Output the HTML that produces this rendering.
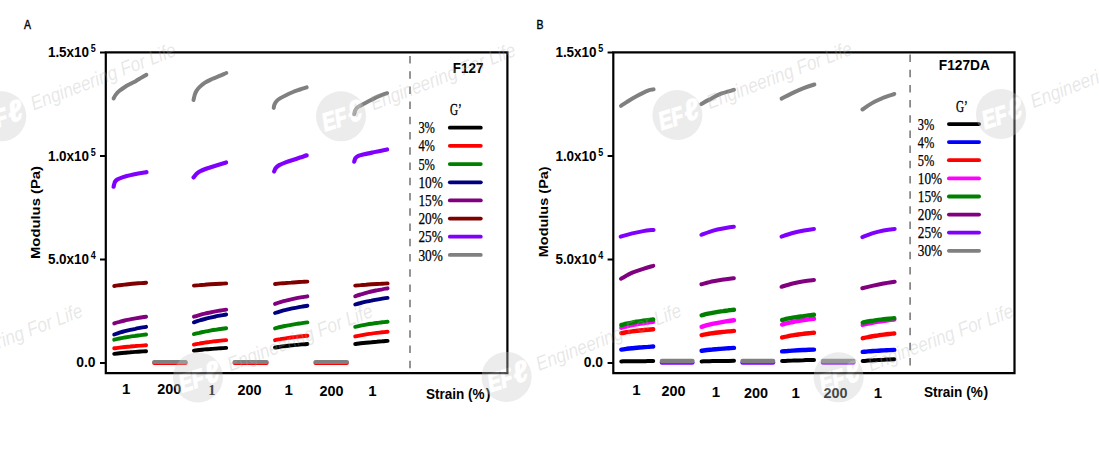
<!DOCTYPE html>
<html><head><meta charset="utf-8"><title>Modulus vs Strain</title>
<style>html,body{margin:0;padding:0;background:#fff;width:1099px;height:449px;overflow:hidden}svg{display:block}</style>
</head><body>
<svg width="1099" height="449" viewBox="0 0 1099 449">
<rect width="1099" height="449" fill="#fff"/>
<g fill="none" stroke="#000" stroke-width="2.2" stroke-linecap="square">
<path d="M105.8 52.4 H507.4 V373.2 H105.8 Z"/>
<path d="M100.0 52.5 H105.8" stroke-width="2" stroke-linecap="butt"/>
<path d="M100.0 156.0 H105.8" stroke-width="2" stroke-linecap="butt"/>
<path d="M100.0 259.5 H105.8" stroke-width="2" stroke-linecap="butt"/>
<path d="M100.0 363.0 H105.8" stroke-width="2" stroke-linecap="butt"/>
</g>
<path d="M410.0 55.9 V371" stroke="#7a7a7a" stroke-width="1.6" stroke-dasharray="7.5 7.74" fill="none"/>
<g fill="none" stroke="#000" stroke-width="2.2" stroke-linecap="square">
<path d="M613.3 52.4 H1014.5 V373.2 H613.3 Z"/>
<path d="M607.6 52.5 H613.3" stroke-width="2" stroke-linecap="butt"/>
<path d="M607.6 156.0 H613.3" stroke-width="2" stroke-linecap="butt"/>
<path d="M607.6 259.5 H613.3" stroke-width="2" stroke-linecap="butt"/>
<path d="M607.6 363.0 H613.3" stroke-width="2" stroke-linecap="butt"/>
</g>
<path d="M910.1 54.6 V371" stroke="#7a7a7a" stroke-width="1.6" stroke-dasharray="7.5 7.67" fill="none"/>
<text x="89.1" y="57.2" font-size="14.0" font-weight="bold" font-family="'Liberation Sans', Arial, sans-serif" text-anchor="end" fill="#000" textLength="41.2" lengthAdjust="spacingAndGlyphs">1.5x10</text>
<text x="90.7" y="52.1" font-size="10.5" font-weight="bold" font-family="'Liberation Sans', Arial, sans-serif" text-anchor="start" fill="#000" textLength="5.0" lengthAdjust="spacingAndGlyphs">5</text>
<text x="89.1" y="160.7" font-size="14.0" font-weight="bold" font-family="'Liberation Sans', Arial, sans-serif" text-anchor="end" fill="#000" textLength="41.2" lengthAdjust="spacingAndGlyphs">1.0x10</text>
<text x="90.7" y="155.6" font-size="10.5" font-weight="bold" font-family="'Liberation Sans', Arial, sans-serif" text-anchor="start" fill="#000" textLength="5.0" lengthAdjust="spacingAndGlyphs">5</text>
<text x="89.1" y="264.1" font-size="14.0" font-weight="bold" font-family="'Liberation Sans', Arial, sans-serif" text-anchor="end" fill="#000" textLength="41.2" lengthAdjust="spacingAndGlyphs">5.0x10</text>
<text x="90.7" y="259.0" font-size="10.5" font-weight="bold" font-family="'Liberation Sans', Arial, sans-serif" text-anchor="start" fill="#000" textLength="5.0" lengthAdjust="spacingAndGlyphs">4</text>
<text x="95.5" y="366.8" font-size="14.4" font-weight="bold" font-family="'Liberation Sans', Arial, sans-serif" text-anchor="end" fill="#000" textLength="19.3" lengthAdjust="spacingAndGlyphs">0.0</text>
<text x="596.6" y="57.2" font-size="14.0" font-weight="bold" font-family="'Liberation Sans', Arial, sans-serif" text-anchor="end" fill="#000" textLength="41.2" lengthAdjust="spacingAndGlyphs">1.5x10</text>
<text x="598.2" y="52.1" font-size="10.5" font-weight="bold" font-family="'Liberation Sans', Arial, sans-serif" text-anchor="start" fill="#000" textLength="5.0" lengthAdjust="spacingAndGlyphs">5</text>
<text x="596.6" y="160.7" font-size="14.0" font-weight="bold" font-family="'Liberation Sans', Arial, sans-serif" text-anchor="end" fill="#000" textLength="41.2" lengthAdjust="spacingAndGlyphs">1.0x10</text>
<text x="598.2" y="155.6" font-size="10.5" font-weight="bold" font-family="'Liberation Sans', Arial, sans-serif" text-anchor="start" fill="#000" textLength="5.0" lengthAdjust="spacingAndGlyphs">5</text>
<text x="596.6" y="264.1" font-size="14.0" font-weight="bold" font-family="'Liberation Sans', Arial, sans-serif" text-anchor="end" fill="#000" textLength="41.2" lengthAdjust="spacingAndGlyphs">5.0x10</text>
<text x="598.2" y="259.0" font-size="10.5" font-weight="bold" font-family="'Liberation Sans', Arial, sans-serif" text-anchor="start" fill="#000" textLength="5.0" lengthAdjust="spacingAndGlyphs">4</text>
<text x="603.0" y="366.8" font-size="14.4" font-weight="bold" font-family="'Liberation Sans', Arial, sans-serif" text-anchor="end" fill="#000" textLength="19.3" lengthAdjust="spacingAndGlyphs">0.0</text>
<text x="0.0" y="0.0" font-size="13.5" font-weight="bold" font-family="'Liberation Sans', Arial, sans-serif" text-anchor="middle" fill="#000" textLength="93" lengthAdjust="spacingAndGlyphs" transform="translate(40.2 212.5) rotate(-90)">Modulus (Pa)</text>
<text x="0.0" y="0.0" font-size="13.5" font-weight="bold" font-family="'Liberation Sans', Arial, sans-serif" text-anchor="middle" fill="#000" textLength="91" lengthAdjust="spacingAndGlyphs" transform="translate(547.6 211.8) rotate(-90)">Modulus (Pa)</text>
<text x="23.9" y="28.6" font-size="11.9" font-weight="normal" font-family="'Liberation Sans', Arial, sans-serif" text-anchor="start" fill="#000" stroke="#000" stroke-width="0.4" textLength="7.0" lengthAdjust="spacingAndGlyphs">A</text>
<text x="536.6" y="28.6" font-size="11.9" font-weight="normal" font-family="'Liberation Sans', Arial, sans-serif" text-anchor="start" fill="#000" stroke="#000" stroke-width="0.4" textLength="7.0" lengthAdjust="spacingAndGlyphs">B</text>
<g fill="none" stroke-linecap="round" stroke-linejoin="round">
<path d="M154.2 362.9 H185.6" stroke="#ff0000" stroke-width="4.0" />
<path d="M234.6 362.9 H266.6" stroke="#ff0000" stroke-width="4.0" />
<path d="M315.5 362.9 H346.9" stroke="#ff0000" stroke-width="4.0" />
<path d="M114.2 353.9 C115.1 353.8 117.7 353.5 119.5 353.3 C121.3 353.1 123.1 352.9 124.8 352.7 C126.6 352.6 128.4 352.4 130.2 352.3 C131.9 352.1 133.7 352.0 135.5 351.9 C137.2 351.8 139.0 351.6 140.8 351.5 C142.6 351.4 145.2 351.3 146.1 351.2" stroke="#000000" stroke-width="3.9" />
<path d="M193.9 350.6 C194.8 350.5 197.5 350.2 199.3 350.0 C201.1 349.8 202.9 349.6 204.7 349.4 C206.5 349.3 208.3 349.1 210.1 349.0 C211.8 348.8 213.6 348.7 215.4 348.6 C217.2 348.5 219.0 348.3 220.8 348.2 C222.6 348.1 225.3 348.0 226.2 347.9" stroke="#000000" stroke-width="3.9" />
<path d="M275.0 347.5 C275.9 347.4 278.6 346.9 280.4 346.7 C282.2 346.4 284.0 346.2 285.8 346.0 C287.6 345.8 289.4 345.6 291.2 345.4 C293.0 345.2 294.8 345.1 296.6 344.9 C298.4 344.7 300.2 344.6 302.0 344.4 C303.8 344.3 306.5 344.1 307.4 344.0" stroke="#000000" stroke-width="3.9" />
<path d="M355.2 344.0 C356.1 343.9 358.8 343.5 360.6 343.3 C362.4 343.1 364.2 342.9 366.0 342.7 C367.8 342.5 369.6 342.3 371.4 342.2 C373.2 342.0 375.0 341.8 376.8 341.7 C378.6 341.5 380.4 341.4 382.2 341.3 C384.0 341.1 386.7 341.0 387.6 340.9" stroke="#000000" stroke-width="3.9" />
<path d="M114.2 348.3 C115.1 348.2 117.7 347.8 119.5 347.6 C121.3 347.4 123.1 347.2 124.8 347.0 C126.6 346.8 128.4 346.6 130.2 346.5 C131.9 346.3 133.7 346.1 135.5 346.0 C137.2 345.8 139.0 345.7 140.8 345.6 C142.6 345.4 145.2 345.3 146.1 345.2" stroke="#ff0000" stroke-width="3.9" />
<path d="M193.9 344.6 C194.8 344.4 197.5 343.9 199.3 343.6 C201.1 343.2 202.9 343.0 204.7 342.7 C206.5 342.4 208.3 342.2 210.1 341.9 C211.8 341.7 213.6 341.5 215.4 341.2 C217.2 341.0 219.0 340.8 220.8 340.6 C222.6 340.5 225.3 340.2 226.2 340.1" stroke="#ff0000" stroke-width="3.9" />
<path d="M275.0 340.2 C275.9 340.0 278.6 339.5 280.4 339.2 C282.2 338.8 284.0 338.6 285.8 338.3 C287.6 338.0 289.4 337.8 291.2 337.5 C293.0 337.3 294.8 337.1 296.6 336.8 C298.4 336.6 300.2 336.4 302.0 336.2 C303.8 336.1 306.5 335.8 307.4 335.7" stroke="#ff0000" stroke-width="3.9" />
<path d="M355.2 336.4 C356.1 336.2 358.8 335.6 360.6 335.3 C362.4 335.0 364.2 334.7 366.0 334.4 C367.8 334.1 369.6 333.8 371.4 333.6 C373.2 333.3 375.0 333.1 376.8 332.9 C378.6 332.7 380.4 332.5 382.2 332.3 C384.0 332.1 386.7 331.8 387.6 331.7" stroke="#ff0000" stroke-width="3.9" />
<path d="M114.2 339.7 C115.1 339.5 117.7 338.9 119.5 338.5 C121.3 338.1 123.1 337.8 124.8 337.5 C126.6 337.2 128.4 336.9 130.2 336.6 C131.9 336.3 133.7 336.1 135.5 335.8 C137.2 335.6 139.0 335.3 140.8 335.1 C142.6 334.9 145.2 334.6 146.1 334.5" stroke="#008000" stroke-width="3.9" />
<path d="M193.9 334.1 C194.8 333.9 197.5 333.2 199.3 332.8 C201.1 332.3 202.9 332.0 204.7 331.6 C206.5 331.3 208.3 331.0 210.1 330.6 C211.8 330.3 213.6 330.0 215.4 329.8 C217.2 329.5 219.0 329.2 220.8 329.0 C222.6 328.8 225.3 328.4 226.2 328.3" stroke="#008000" stroke-width="3.9" />
<path d="M275.0 328.4 C275.9 328.2 278.6 327.4 280.4 327.0 C282.2 326.6 284.0 326.2 285.8 325.8 C287.6 325.5 289.4 325.1 291.2 324.8 C293.0 324.5 294.8 324.2 296.6 323.9 C298.4 323.6 300.2 323.4 302.0 323.1 C303.8 322.9 306.5 322.5 307.4 322.4" stroke="#008000" stroke-width="3.9" />
<path d="M355.2 326.8 C356.1 326.6 358.8 326.0 360.6 325.6 C362.4 325.3 364.2 324.9 366.0 324.6 C367.8 324.3 369.6 324.0 371.4 323.8 C373.2 323.5 375.0 323.2 376.8 323.0 C378.6 322.8 380.4 322.5 382.2 322.3 C384.0 322.1 386.7 321.8 387.6 321.7" stroke="#008000" stroke-width="3.9" />
<path d="M114.2 334.5 C115.1 334.2 117.7 333.3 119.5 332.7 C121.3 332.2 123.1 331.7 124.8 331.2 C126.6 330.7 128.4 330.3 130.2 329.9 C131.9 329.5 133.7 329.1 135.5 328.8 C137.2 328.4 139.0 328.1 140.8 327.7 C142.6 327.4 145.2 327.0 146.1 326.8" stroke="#000080" stroke-width="3.9" />
<path d="M193.9 322.3 C194.8 322.0 197.5 321.1 199.3 320.5 C201.1 319.9 202.9 319.4 204.7 319.0 C206.5 318.5 208.3 318.1 210.1 317.7 C211.8 317.2 213.6 316.9 215.4 316.5 C217.2 316.1 219.0 315.8 220.8 315.4 C222.6 315.1 225.3 314.7 226.2 314.5" stroke="#000080" stroke-width="3.9" />
<path d="M275.0 313.0 C275.9 312.7 278.6 311.8 280.4 311.3 C282.2 310.8 284.0 310.3 285.8 309.9 C287.6 309.4 289.4 309.0 291.2 308.6 C293.0 308.3 294.8 307.9 296.6 307.6 C298.4 307.2 300.2 306.9 302.0 306.6 C303.8 306.3 306.5 305.8 307.4 305.7" stroke="#000080" stroke-width="3.9" />
<path d="M355.2 304.5 C356.1 304.2 358.8 303.4 360.6 303.0 C362.4 302.5 364.2 302.1 366.0 301.7 C367.8 301.3 369.6 300.9 371.4 300.6 C373.2 300.2 375.0 299.9 376.8 299.6 C378.6 299.3 380.4 299.0 382.2 298.7 C384.0 298.4 386.7 298.0 387.6 297.9" stroke="#000080" stroke-width="3.9" />
<path d="M114.2 323.4 C115.1 323.1 117.7 322.3 119.5 321.9 C121.3 321.4 123.1 320.9 124.8 320.5 C126.6 320.1 128.4 319.8 130.2 319.4 C131.9 319.1 133.7 318.7 135.5 318.4 C137.2 318.1 139.0 317.8 140.8 317.5 C142.6 317.2 145.2 316.8 146.1 316.7" stroke="#800080" stroke-width="3.9" />
<path d="M193.9 316.7 C194.8 316.4 197.5 315.6 199.3 315.1 C201.1 314.6 202.9 314.1 204.7 313.7 C206.5 313.2 208.3 312.8 210.1 312.5 C211.8 312.1 213.6 311.7 215.4 311.4 C217.2 311.1 219.0 310.8 220.8 310.5 C222.6 310.2 225.3 309.7 226.2 309.6" stroke="#800080" stroke-width="3.9" />
<path d="M275.0 303.9 C275.9 303.6 278.6 302.7 280.4 302.1 C282.2 301.6 284.0 301.1 285.8 300.7 C287.6 300.2 289.4 299.8 291.2 299.4 C293.0 299.0 294.8 298.6 296.6 298.2 C298.4 297.9 300.2 297.5 302.0 297.2 C303.8 296.9 306.5 296.5 307.4 296.3" stroke="#800080" stroke-width="3.9" />
<path d="M355.2 296.3 C356.1 296.0 358.8 295.0 360.6 294.5 C362.4 293.9 364.2 293.4 366.0 292.9 C367.8 292.4 369.6 292.0 371.4 291.5 C373.2 291.1 375.0 290.7 376.8 290.3 C378.6 290.0 380.4 289.6 382.2 289.3 C384.0 288.9 386.7 288.5 387.6 288.3" stroke="#800080" stroke-width="3.9" />
<path d="M114.2 286.0 C115.1 285.9 117.7 285.5 119.5 285.2 C121.3 285.0 123.1 284.8 124.8 284.6 C126.6 284.4 128.4 284.2 130.2 284.0 C131.9 283.9 133.7 283.7 135.5 283.5 C137.2 283.4 139.0 283.2 140.8 283.1 C142.6 283.0 145.2 282.8 146.1 282.7" stroke="#800000" stroke-width="3.9" />
<path d="M193.9 285.6 C194.8 285.5 197.5 285.2 199.3 285.1 C201.1 284.9 202.9 284.8 204.7 284.7 C206.5 284.5 208.3 284.4 210.1 284.3 C211.8 284.2 213.6 284.1 215.4 284.0 C217.2 283.9 219.0 283.8 220.8 283.7 C222.6 283.6 225.3 283.4 226.2 283.4" stroke="#800000" stroke-width="3.9" />
<path d="M275.0 284.0 C275.9 283.9 278.6 283.6 280.4 283.4 C282.2 283.3 284.0 283.1 285.8 283.0 C287.6 282.8 289.4 282.7 291.2 282.6 C293.0 282.4 294.8 282.3 296.6 282.2 C298.4 282.1 300.2 282.0 302.0 281.9 C303.8 281.8 306.5 281.6 307.4 281.6" stroke="#800000" stroke-width="3.9" />
<path d="M355.2 285.6 C356.1 285.5 358.8 285.2 360.6 285.1 C362.4 284.9 364.2 284.8 366.0 284.7 C367.8 284.5 369.6 284.4 371.4 284.3 C373.2 284.2 375.0 284.1 376.8 284.0 C378.6 283.9 380.4 283.8 382.2 283.7 C384.0 283.6 386.7 283.4 387.6 283.4" stroke="#800000" stroke-width="3.9" />
<path d="M113.6 186.7 C114.0 185.7 113.8 182.3 116.0 180.5 C118.2 178.7 121.7 177.4 126.8 176.0 C131.9 174.6 143.2 172.7 146.5 172.1" stroke="#8000ff" stroke-width="4.2" />
<path d="M193.5 177.4 C194.4 176.6 195.8 173.9 198.5 172.2 C201.2 170.5 205.4 169.1 210.0 167.5 C214.6 165.9 223.4 163.2 226.1 162.4" stroke="#8000ff" stroke-width="4.2" />
<path d="M274.1 171.5 C274.4 171.0 274.8 169.3 275.6 168.2 C276.4 167.1 277.6 166.1 279.2 165.2 C280.8 164.3 282.9 163.4 285.0 162.6 C287.1 161.8 289.5 161.0 292.0 160.2 C294.5 159.4 297.5 158.4 300.0 157.6 C302.5 156.8 305.6 155.7 306.7 155.4" stroke="#8000ff" stroke-width="4.2" />
<path d="M354.2 161.7 C354.4 161.1 354.7 159.2 355.4 158.2 C356.1 157.2 357.0 156.6 358.4 155.9 C359.8 155.2 361.7 154.9 364.0 154.3 C366.3 153.8 369.3 153.2 372.0 152.6 C374.7 152.0 377.5 151.5 380.0 151.0 C382.5 150.5 385.9 149.8 387.1 149.5" stroke="#8000ff" stroke-width="4.2" />
<path d="M113.6 98.4 C114.0 97.7 114.8 95.9 115.8 94.6 C116.8 93.3 118.0 91.9 119.5 90.7 C121.0 89.5 122.8 88.3 124.5 87.2 C126.2 86.1 128.1 85.1 130.0 84.1 C131.9 83.0 134.1 82.0 136.0 80.9 C137.9 79.8 139.8 78.6 141.5 77.6 C143.2 76.6 145.6 75.3 146.4 74.8" stroke="#808080" stroke-width="4.0" />
<path d="M193.5 100.0 C193.7 99.2 194.2 96.6 194.7 95.0 C195.2 93.4 195.7 92.0 196.6 90.6 C197.5 89.2 198.6 87.9 200.0 86.6 C201.4 85.3 203.0 83.9 205.0 82.6 C207.0 81.3 209.7 80.1 212.0 79.0 C214.3 77.9 216.6 77.2 219.0 76.2 C221.4 75.2 225.1 73.5 226.3 73.0" stroke="#808080" stroke-width="4.0" />
<path d="M273.7 107.9 C273.8 107.4 274.0 105.9 274.4 104.8 C274.8 103.7 275.4 102.5 276.3 101.4 C277.2 100.3 278.4 99.4 280.0 98.4 C281.6 97.4 283.8 96.3 286.0 95.2 C288.2 94.1 290.7 93.0 293.0 92.0 C295.3 91.0 297.7 90.3 300.0 89.5 C302.3 88.7 305.6 87.8 306.7 87.4" stroke="#808080" stroke-width="4.0" />
<path d="M354.1 114.3 C354.3 113.7 354.6 111.7 355.2 110.5 C355.8 109.3 356.7 108.0 358.0 107.0 C359.3 106.0 361.2 105.2 363.0 104.2 C364.8 103.2 366.9 102.1 369.0 101.0 C371.1 99.9 373.6 98.6 375.7 97.6 C377.8 96.6 379.6 95.9 381.5 95.2 C383.4 94.5 386.2 93.5 387.1 93.2" stroke="#808080" stroke-width="4.0" />
<path d="M154.2 362.0 H185.6" stroke="#808080" stroke-width="4.2" />
<path d="M234.6 362.0 H266.6" stroke="#808080" stroke-width="4.2" />
<path d="M315.5 362.0 H346.9" stroke="#808080" stroke-width="4.2" />
</g>
<g fill="none" stroke-linecap="round" stroke-linejoin="round">
<path d="M661.9 362.6 H692.4" stroke="#8000ff" stroke-width="4.4" />
<path d="M742.5 362.6 H773.1" stroke="#8000ff" stroke-width="4.4" />
<path d="M823.0 362.6 H853.4" stroke="#8000ff" stroke-width="4.4" />
<path d="M621.3 361.4 C622.2 361.4 624.8 361.3 626.6 361.3 C628.4 361.3 630.2 361.3 631.9 361.3 C633.7 361.2 635.5 361.2 637.2 361.2 C639.0 361.2 640.8 361.2 642.6 361.2 C644.3 361.2 646.1 361.1 647.9 361.1 C649.7 361.1 652.3 361.1 653.2 361.1" stroke="#000000" stroke-width="4.0" />
<path d="M701.6 361.4 C702.5 361.4 705.2 361.3 707.0 361.3 C708.8 361.2 710.6 361.2 712.4 361.1 C714.2 361.1 716.0 361.1 717.8 361.0 C719.6 361.0 721.4 361.0 723.2 360.9 C725.0 360.9 726.8 360.9 728.6 360.9 C730.4 360.8 733.1 360.8 734.0 360.8" stroke="#000000" stroke-width="4.0" />
<path d="M782.1 361.1 C783.0 361.1 785.6 360.9 787.4 360.8 C789.2 360.7 791.0 360.6 792.7 360.6 C794.5 360.5 796.3 360.4 798.0 360.4 C799.8 360.3 801.6 360.2 803.4 360.2 C805.1 360.1 806.9 360.1 808.7 360.0 C810.5 360.0 813.1 359.9 814.0 359.9" stroke="#000000" stroke-width="4.0" />
<path d="M862.7 361.1 C863.6 361.0 866.2 360.8 868.0 360.6 C869.7 360.5 871.5 360.4 873.2 360.3 C875.0 360.1 876.7 360.0 878.5 359.9 C880.3 359.8 882.0 359.7 883.8 359.7 C885.5 359.6 887.3 359.5 889.0 359.4 C890.8 359.3 893.4 359.2 894.3 359.2" stroke="#000000" stroke-width="4.0" />
<path d="M621.3 349.6 C622.2 349.5 624.8 349.1 626.6 348.8 C628.4 348.6 630.2 348.4 631.9 348.2 C633.7 348.0 635.5 347.9 637.2 347.7 C639.0 347.5 640.8 347.4 642.6 347.3 C644.3 347.1 646.1 347.0 647.9 346.9 C649.7 346.7 652.3 346.6 653.2 346.5" stroke="#0000ff" stroke-width="4.4" />
<path d="M701.6 350.7 C702.5 350.6 705.2 350.2 707.0 350.0 C708.8 349.8 710.6 349.6 712.4 349.5 C714.2 349.3 716.0 349.1 717.8 349.0 C719.6 348.8 721.4 348.7 723.2 348.6 C725.0 348.5 726.8 348.3 728.6 348.2 C730.4 348.1 733.1 348.0 734.0 347.9" stroke="#0000ff" stroke-width="4.4" />
<path d="M782.1 351.4 C783.0 351.3 785.6 351.1 787.4 351.0 C789.2 350.8 791.0 350.7 792.7 350.6 C794.5 350.5 796.3 350.4 798.0 350.3 C799.8 350.2 801.6 350.1 803.4 350.0 C805.1 350.0 806.9 349.9 808.7 349.8 C810.5 349.7 813.1 349.6 814.0 349.6" stroke="#0000ff" stroke-width="4.4" />
<path d="M862.7 351.9 C863.6 351.8 866.2 351.6 868.0 351.4 C869.7 351.3 871.5 351.1 873.2 351.0 C875.0 350.9 876.7 350.8 878.5 350.7 C880.3 350.6 882.0 350.5 883.8 350.4 C885.5 350.3 887.3 350.2 889.0 350.1 C890.8 350.0 893.4 349.9 894.3 349.9" stroke="#0000ff" stroke-width="4.4" />
<path d="M621.3 333.1 C622.2 332.9 624.8 332.5 626.6 332.2 C628.4 331.9 630.2 331.7 631.9 331.4 C633.7 331.2 635.5 331.0 637.2 330.8 C639.0 330.6 640.8 330.4 642.6 330.2 C644.3 330.1 646.1 329.9 647.9 329.7 C649.7 329.6 652.3 329.4 653.2 329.3" stroke="#ff0000" stroke-width="4.4" />
<path d="M701.6 335.1 C702.5 334.9 705.2 334.4 707.0 334.1 C708.8 333.8 710.6 333.5 712.4 333.2 C714.2 333.0 716.0 332.8 717.8 332.5 C719.6 332.3 721.4 332.1 723.2 331.9 C725.0 331.7 726.8 331.6 728.6 331.4 C730.4 331.2 733.1 331.0 734.0 330.9" stroke="#ff0000" stroke-width="4.4" />
<path d="M782.1 337.4 C783.0 337.2 785.6 336.6 787.4 336.3 C789.2 335.9 791.0 335.6 792.7 335.3 C794.5 335.0 796.3 334.8 798.0 334.5 C799.8 334.3 801.6 334.1 803.4 333.8 C805.1 333.6 806.9 333.4 808.7 333.2 C810.5 333.0 813.1 332.8 814.0 332.7" stroke="#ff0000" stroke-width="4.4" />
<path d="M862.7 338.2 C863.6 338.0 866.2 337.4 868.0 337.1 C869.7 336.7 871.5 336.4 873.2 336.1 C875.0 335.8 876.7 335.6 878.5 335.3 C880.3 335.1 882.0 334.9 883.8 334.6 C885.5 334.4 887.3 334.2 889.0 334.0 C890.8 333.8 893.4 333.6 894.3 333.5" stroke="#ff0000" stroke-width="4.4" />
<path d="M621.3 327.8 C622.2 327.6 624.8 326.8 626.6 326.3 C628.4 325.9 630.2 325.5 631.9 325.1 C633.7 324.8 635.5 324.4 637.2 324.1 C639.0 323.8 640.8 323.5 642.6 323.3 C644.3 323.0 646.1 322.7 647.9 322.5 C649.7 322.2 652.3 321.9 653.2 321.8" stroke="#ff00ff" stroke-width="4.4" />
<path d="M701.6 326.8 C702.5 326.5 705.2 325.7 707.0 325.2 C708.8 324.7 710.6 324.3 712.4 323.9 C714.2 323.5 716.0 323.2 717.8 322.8 C719.6 322.5 721.4 322.2 723.2 321.9 C725.0 321.6 726.8 321.3 728.6 321.0 C730.4 320.8 733.1 320.4 734.0 320.3" stroke="#ff00ff" stroke-width="4.4" />
<path d="M782.1 324.6 C783.0 324.4 785.6 323.6 787.4 323.2 C789.2 322.7 791.0 322.4 792.7 322.0 C794.5 321.6 796.3 321.3 798.0 321.0 C799.8 320.7 801.6 320.4 803.4 320.1 C805.1 319.9 806.9 319.6 808.7 319.4 C810.5 319.1 813.1 318.8 814.0 318.7" stroke="#ff00ff" stroke-width="4.4" />
<path d="M862.7 324.9 C863.6 324.7 866.2 324.0 868.0 323.6 C869.7 323.2 871.5 322.8 873.2 322.5 C875.0 322.2 876.7 321.9 878.5 321.6 C880.3 321.3 882.0 321.1 883.8 320.8 C885.5 320.6 887.3 320.3 889.0 320.1 C890.8 319.9 893.4 319.6 894.3 319.5" stroke="#ff00ff" stroke-width="4.4" />
<path d="M621.3 325.0 C622.2 324.8 624.8 324.1 626.6 323.7 C628.4 323.3 630.2 322.9 631.9 322.6 C633.7 322.2 635.5 321.9 637.2 321.6 C639.0 321.4 640.8 321.1 642.6 320.8 C644.3 320.6 646.1 320.4 647.9 320.1 C649.7 319.9 652.3 319.6 653.2 319.5" stroke="#008000" stroke-width="4.4" />
<path d="M701.6 315.3 C702.5 315.1 705.2 314.3 707.0 313.9 C708.8 313.5 710.6 313.2 712.4 312.8 C714.2 312.5 716.0 312.2 717.8 311.9 C719.6 311.6 721.4 311.3 723.2 311.1 C725.0 310.8 726.8 310.6 728.6 310.3 C730.4 310.1 733.1 309.8 734.0 309.7" stroke="#008000" stroke-width="4.4" />
<path d="M782.1 320.0 C783.0 319.8 785.6 319.1 787.4 318.7 C789.2 318.4 791.0 318.0 792.7 317.7 C794.5 317.4 796.3 317.1 798.0 316.8 C799.8 316.6 801.6 316.3 803.4 316.1 C805.1 315.8 806.9 315.6 808.7 315.4 C810.5 315.2 813.1 314.9 814.0 314.8" stroke="#008000" stroke-width="4.4" />
<path d="M862.7 322.6 C863.6 322.4 866.2 321.9 868.0 321.5 C869.7 321.2 871.5 320.9 873.2 320.7 C875.0 320.4 876.7 320.1 878.5 319.9 C880.3 319.7 882.0 319.5 883.8 319.3 C885.5 319.1 887.3 318.9 889.0 318.7 C890.8 318.5 893.4 318.3 894.3 318.2" stroke="#008000" stroke-width="4.4" />
<path d="M621.0 278.7 C622.9 277.7 628.6 274.3 632.3 272.7 C636.0 271.1 639.7 269.9 643.2 268.8 C646.7 267.7 651.6 266.3 653.3 265.8" stroke="#800080" stroke-width="4.0" />
<path d="M701.4 284.3 C703.4 283.8 709.5 282.1 713.3 281.3 C717.1 280.5 720.6 280.0 724.0 279.5 C727.4 279.0 732.3 278.4 733.9 278.2" stroke="#800080" stroke-width="4.0" />
<path d="M781.5 286.8 C783.4 286.2 788.9 284.4 792.7 283.5 C796.5 282.6 800.4 281.8 804.0 281.2 C807.6 280.6 812.3 280.2 814.0 280.0" stroke="#800080" stroke-width="4.0" />
<path d="M862.3 288.3 C863.9 287.9 868.7 286.7 872.2 285.9 C875.7 285.1 879.7 284.2 883.5 283.5 C887.3 282.8 892.8 282.0 894.7 281.7" stroke="#800080" stroke-width="4.0" />
<path d="M620.6 236.7 C622.5 236.1 628.5 234.3 632.3 233.4 C636.1 232.5 639.6 231.7 643.2 231.1 C646.8 230.5 651.9 230.1 653.6 229.9" stroke="#8000ff" stroke-width="4.0" />
<path d="M701.4 234.8 C703.4 234.1 709.5 231.7 713.3 230.6 C717.1 229.5 720.9 228.9 724.3 228.3 C727.7 227.7 732.3 227.0 733.9 226.8" stroke="#8000ff" stroke-width="4.0" />
<path d="M781.5 236.6 C783.3 236.0 788.9 234.0 792.7 233.0 C796.5 232.0 800.4 231.2 804.0 230.5 C807.6 229.8 812.3 229.1 814.0 228.9" stroke="#8000ff" stroke-width="4.0" />
<path d="M862.3 237.1 C863.9 236.5 868.7 234.5 872.2 233.4 C875.7 232.3 879.7 231.3 883.5 230.5 C887.3 229.7 892.8 229.1 894.7 228.9" stroke="#8000ff" stroke-width="4.0" />
<path d="M621.0 105.9 C622.1 105.2 625.0 103.2 627.6 101.5 C630.2 99.8 633.5 97.8 636.9 96.0 C640.3 94.2 645.1 91.7 647.9 90.6 C650.7 89.5 652.7 89.6 653.6 89.4" stroke="#808080" stroke-width="4.0" />
<path d="M701.3 104.1 C702.6 103.4 705.4 101.6 708.7 99.9 C712.0 98.2 716.9 95.4 721.1 93.7 C725.3 92.0 731.8 90.6 733.9 89.9" stroke="#808080" stroke-width="4.0" />
<path d="M781.6 98.6 C783.6 97.6 789.6 94.4 793.4 92.6 C797.2 90.8 800.8 89.3 804.3 87.9 C807.8 86.5 812.7 85.0 814.4 84.5" stroke="#808080" stroke-width="4.0" />
<path d="M862.4 109.5 C863.3 108.9 865.9 106.9 868.0 105.6 C870.1 104.3 872.7 102.7 875.0 101.5 C877.3 100.3 879.8 99.2 882.0 98.3 C884.2 97.3 886.4 96.5 888.5 95.8 C890.6 95.1 893.4 94.3 894.3 94.0" stroke="#808080" stroke-width="4.0" />
<path d="M661.9 361.0 H692.4" stroke="#808080" stroke-width="4.4" />
<path d="M742.5 361.0 H773.1" stroke="#808080" stroke-width="4.4" />
<path d="M823.0 361.0 H853.4" stroke="#808080" stroke-width="4.4" />
</g>
<text x="452.8" y="73.0" font-size="14.0" font-weight="bold" font-family="'Liberation Sans', Arial, sans-serif" text-anchor="start" fill="#000" textLength="30.6" lengthAdjust="spacingAndGlyphs">F127</text>
<text x="450.0" y="114.8" font-size="16.0" font-weight="normal" font-family="'Liberation Serif', 'Times New Roman', serif" text-anchor="start" fill="#000" textLength="11.8" lengthAdjust="spacingAndGlyphs" stroke="#000" stroke-width="0.35">G&#8217;</text>
<path d="M449.8 127.7 H480.8" stroke="#000" stroke-width="3.8" stroke-linecap="round" fill="none"/>
<text x="418.4" y="133.3" font-size="17.0" font-weight="normal" font-family="'Liberation Serif', 'Times New Roman', serif" text-anchor="start" fill="#000" textLength="16.6" lengthAdjust="spacingAndGlyphs" stroke="#000" stroke-width="0.25">3%</text>
<path d="M449.8 145.8 H480.8" stroke="#ff0000" stroke-width="3.8" stroke-linecap="round" fill="none"/>
<text x="418.4" y="151.4" font-size="17.0" font-weight="normal" font-family="'Liberation Serif', 'Times New Roman', serif" text-anchor="start" fill="#000" textLength="16.6" lengthAdjust="spacingAndGlyphs" stroke="#000" stroke-width="0.25">4%</text>
<path d="M449.8 164.1 H480.8" stroke="#008000" stroke-width="3.8" stroke-linecap="round" fill="none"/>
<text x="418.4" y="169.7" font-size="17.0" font-weight="normal" font-family="'Liberation Serif', 'Times New Roman', serif" text-anchor="start" fill="#000" textLength="16.6" lengthAdjust="spacingAndGlyphs" stroke="#000" stroke-width="0.25">5%</text>
<path d="M449.8 182.3 H480.8" stroke="#000080" stroke-width="3.8" stroke-linecap="round" fill="none"/>
<text x="418.4" y="187.9" font-size="17.0" font-weight="normal" font-family="'Liberation Serif', 'Times New Roman', serif" text-anchor="start" fill="#000" textLength="24.4" lengthAdjust="spacingAndGlyphs" stroke="#000" stroke-width="0.25">10%</text>
<path d="M449.8 200.4 H480.8" stroke="#800080" stroke-width="3.8" stroke-linecap="round" fill="none"/>
<text x="418.4" y="206.0" font-size="17.0" font-weight="normal" font-family="'Liberation Serif', 'Times New Roman', serif" text-anchor="start" fill="#000" textLength="24.4" lengthAdjust="spacingAndGlyphs" stroke="#000" stroke-width="0.25">15%</text>
<path d="M449.8 218.6 H480.8" stroke="#800000" stroke-width="3.8" stroke-linecap="round" fill="none"/>
<text x="418.4" y="224.2" font-size="17.0" font-weight="normal" font-family="'Liberation Serif', 'Times New Roman', serif" text-anchor="start" fill="#000" textLength="24.4" lengthAdjust="spacingAndGlyphs" stroke="#000" stroke-width="0.25">20%</text>
<path d="M449.8 236.7 H480.8" stroke="#8000ff" stroke-width="3.8" stroke-linecap="round" fill="none"/>
<text x="418.4" y="242.3" font-size="17.0" font-weight="normal" font-family="'Liberation Serif', 'Times New Roman', serif" text-anchor="start" fill="#000" textLength="24.4" lengthAdjust="spacingAndGlyphs" stroke="#000" stroke-width="0.25">25%</text>
<path d="M449.8 254.9 H480.8" stroke="#808080" stroke-width="3.8" stroke-linecap="round" fill="none"/>
<text x="418.4" y="260.5" font-size="17.0" font-weight="normal" font-family="'Liberation Serif', 'Times New Roman', serif" text-anchor="start" fill="#000" textLength="24.4" lengthAdjust="spacingAndGlyphs" stroke="#000" stroke-width="0.25">30%</text>
<text x="938.8" y="70.3" font-size="14.0" font-weight="bold" font-family="'Liberation Sans', Arial, sans-serif" text-anchor="start" fill="#000" textLength="51.0" lengthAdjust="spacingAndGlyphs">F127DA</text>
<text x="956.0" y="111.6" font-size="16.0" font-weight="normal" font-family="'Liberation Serif', 'Times New Roman', serif" text-anchor="start" fill="#000" textLength="11.8" lengthAdjust="spacingAndGlyphs" stroke="#000" stroke-width="0.35">G&#8217;</text>
<path d="M948.9 124.1 H979.1" stroke="#000" stroke-width="3.8" stroke-linecap="round" fill="none"/>
<text x="917.8" y="129.7" font-size="17.0" font-weight="normal" font-family="'Liberation Serif', 'Times New Roman', serif" text-anchor="start" fill="#000" textLength="16.6" lengthAdjust="spacingAndGlyphs" stroke="#000" stroke-width="0.25">3%</text>
<path d="M948.9 142.1 H979.1" stroke="#0000ff" stroke-width="3.8" stroke-linecap="round" fill="none"/>
<text x="917.8" y="147.7" font-size="17.0" font-weight="normal" font-family="'Liberation Serif', 'Times New Roman', serif" text-anchor="start" fill="#000" textLength="16.6" lengthAdjust="spacingAndGlyphs" stroke="#000" stroke-width="0.25">4%</text>
<path d="M948.9 160.2 H979.1" stroke="#ff0000" stroke-width="3.8" stroke-linecap="round" fill="none"/>
<text x="917.8" y="165.8" font-size="17.0" font-weight="normal" font-family="'Liberation Serif', 'Times New Roman', serif" text-anchor="start" fill="#000" textLength="16.6" lengthAdjust="spacingAndGlyphs" stroke="#000" stroke-width="0.25">5%</text>
<path d="M948.9 178.4 H979.1" stroke="#ff00ff" stroke-width="3.8" stroke-linecap="round" fill="none"/>
<text x="917.8" y="184.0" font-size="17.0" font-weight="normal" font-family="'Liberation Serif', 'Times New Roman', serif" text-anchor="start" fill="#000" textLength="24.4" lengthAdjust="spacingAndGlyphs" stroke="#000" stroke-width="0.25">10%</text>
<path d="M948.9 196.5 H979.1" stroke="#008000" stroke-width="3.8" stroke-linecap="round" fill="none"/>
<text x="917.8" y="202.1" font-size="17.0" font-weight="normal" font-family="'Liberation Serif', 'Times New Roman', serif" text-anchor="start" fill="#000" textLength="24.4" lengthAdjust="spacingAndGlyphs" stroke="#000" stroke-width="0.25">15%</text>
<path d="M948.9 214.6 H979.1" stroke="#800080" stroke-width="3.8" stroke-linecap="round" fill="none"/>
<text x="917.8" y="220.2" font-size="17.0" font-weight="normal" font-family="'Liberation Serif', 'Times New Roman', serif" text-anchor="start" fill="#000" textLength="24.4" lengthAdjust="spacingAndGlyphs" stroke="#000" stroke-width="0.25">20%</text>
<path d="M948.9 232.6 H979.1" stroke="#8000ff" stroke-width="3.8" stroke-linecap="round" fill="none"/>
<text x="917.8" y="238.2" font-size="17.0" font-weight="normal" font-family="'Liberation Serif', 'Times New Roman', serif" text-anchor="start" fill="#000" textLength="24.4" lengthAdjust="spacingAndGlyphs" stroke="#000" stroke-width="0.25">25%</text>
<path d="M948.9 250.8 H979.1" stroke="#808080" stroke-width="3.8" stroke-linecap="round" fill="none"/>
<text x="917.8" y="256.4" font-size="17.0" font-weight="normal" font-family="'Liberation Serif', 'Times New Roman', serif" text-anchor="start" fill="#000" textLength="24.4" lengthAdjust="spacingAndGlyphs" stroke="#000" stroke-width="0.25">30%</text>
<text x="126.2" y="393.7" font-size="15.0" font-weight="bold" font-family="'Liberation Sans', Arial, sans-serif" text-anchor="middle" fill="#000" >1</text>
<text x="169.2" y="394.2" font-size="15.0" font-weight="bold" font-family="'Liberation Sans', Arial, sans-serif" text-anchor="middle" fill="#000" textLength="24.0" lengthAdjust="spacingAndGlyphs">200</text>
<text x="249.6" y="394.8" font-size="15.0" font-weight="bold" font-family="'Liberation Sans', Arial, sans-serif" text-anchor="middle" fill="#000" textLength="24.0" lengthAdjust="spacingAndGlyphs">200</text>
<text x="288.7" y="394.8" font-size="15.0" font-weight="bold" font-family="'Liberation Sans', Arial, sans-serif" text-anchor="middle" fill="#000" >1</text>
<text x="331.5" y="395.8" font-size="15.0" font-weight="bold" font-family="'Liberation Sans', Arial, sans-serif" text-anchor="middle" fill="#000" textLength="24.0" lengthAdjust="spacingAndGlyphs">200</text>
<text x="372.4" y="395.8" font-size="15.0" font-weight="bold" font-family="'Liberation Sans', Arial, sans-serif" text-anchor="middle" fill="#000" >1</text>
<text x="211.8" y="394.8" font-size="14.5" font-weight="bold" font-family="'Liberation Serif', 'Times New Roman', serif" text-anchor="middle" fill="#000" >1</text>
<text x="636.3" y="395.2" font-size="15.0" font-weight="bold" font-family="'Liberation Sans', Arial, sans-serif" text-anchor="middle" fill="#000" >1</text>
<text x="673.4" y="395.8" font-size="15.0" font-weight="bold" font-family="'Liberation Sans', Arial, sans-serif" text-anchor="middle" fill="#000" textLength="24.0" lengthAdjust="spacingAndGlyphs">200</text>
<text x="716.0" y="396.9" font-size="15.0" font-weight="bold" font-family="'Liberation Sans', Arial, sans-serif" text-anchor="middle" fill="#000" >1</text>
<text x="756.0" y="397.8" font-size="15.0" font-weight="bold" font-family="'Liberation Sans', Arial, sans-serif" text-anchor="middle" fill="#000" textLength="24.0" lengthAdjust="spacingAndGlyphs">200</text>
<text x="795.7" y="397.6" font-size="15.0" font-weight="bold" font-family="'Liberation Sans', Arial, sans-serif" text-anchor="middle" fill="#000" >1</text>
<text x="835.6" y="398.1" font-size="15.0" font-weight="bold" font-family="'Liberation Sans', Arial, sans-serif" text-anchor="middle" fill="#000" textLength="24.0" lengthAdjust="spacingAndGlyphs">200</text>
<text x="878.0" y="398.1" font-size="15.0" font-weight="bold" font-family="'Liberation Sans', Arial, sans-serif" text-anchor="middle" fill="#000" >1</text>
<text x="425.9" y="398.7" font-size="14.0" font-weight="bold" font-family="'Liberation Sans', Arial, sans-serif" text-anchor="start" fill="#000" textLength="58.6" lengthAdjust="spacingAndGlyphs">Strain (%</text>
<text x="485.8" y="398.7" font-size="14.0" font-weight="bold" font-family="'Liberation Sans', Arial, sans-serif" text-anchor="start" fill="#000" >)</text>
<text x="923.9" y="397.2" font-size="14.0" font-weight="bold" font-family="'Liberation Sans', Arial, sans-serif" text-anchor="start" fill="#000" textLength="58.9" lengthAdjust="spacingAndGlyphs">Strain (%</text>
<text x="983.5" y="397.2" font-size="14.0" font-weight="bold" font-family="'Liberation Sans', Arial, sans-serif" text-anchor="start" fill="#000" >)</text>
<g opacity="0.34">
<circle cx="1.3" cy="116.3" r="25" fill="rgb(200,200,200)"/>
<text x="0" y="0" font-size="25" font-weight="bold" font-style="italic" font-family="'Liberation Sans', Arial, sans-serif" fill="#fff" stroke="#fff" stroke-width="1.2" transform="translate(-14.7 131.3) rotate(-17)" textLength="25" lengthAdjust="spacingAndGlyphs">EF</text>
<text x="0" y="0" font-size="29" font-weight="bold" font-style="italic" font-family="'Liberation Sans', Arial, sans-serif" fill="#fff" stroke="#fff" stroke-width="1.0" transform="translate(10.8 122.8) rotate(-17)">&#8467;</text>
</g>
<text x="0" y="0" font-size="20" font-style="italic" font-family="'Liberation Sans', Arial, sans-serif" fill="rgb(170,170,170)" fill-opacity="0.28" transform="translate(33.7 110.5) rotate(-21)" textLength="154" lengthAdjust="spacingAndGlyphs">Engineering For Life</text>
<g opacity="0.34">
<circle cx="341.0" cy="116.3" r="25" fill="rgb(200,200,200)"/>
<text x="0" y="0" font-size="25" font-weight="bold" font-style="italic" font-family="'Liberation Sans', Arial, sans-serif" fill="#fff" stroke="#fff" stroke-width="1.2" transform="translate(325.0 131.3) rotate(-17)" textLength="25" lengthAdjust="spacingAndGlyphs">EF</text>
<text x="0" y="0" font-size="29" font-weight="bold" font-style="italic" font-family="'Liberation Sans', Arial, sans-serif" fill="#fff" stroke="#fff" stroke-width="1.0" transform="translate(350.5 122.8) rotate(-17)">&#8467;</text>
</g>
<text x="0" y="0" font-size="20" font-style="italic" font-family="'Liberation Sans', Arial, sans-serif" fill="rgb(170,170,170)" fill-opacity="0.28" transform="translate(373.4 110.5) rotate(-21)" textLength="154" lengthAdjust="spacingAndGlyphs">Engineering For Life</text>
<g opacity="0.34">
<circle cx="677.4" cy="115.0" r="25" fill="rgb(200,200,200)"/>
<text x="0" y="0" font-size="25" font-weight="bold" font-style="italic" font-family="'Liberation Sans', Arial, sans-serif" fill="#fff" stroke="#fff" stroke-width="1.2" transform="translate(661.4 130.0) rotate(-17)" textLength="25" lengthAdjust="spacingAndGlyphs">EF</text>
<text x="0" y="0" font-size="29" font-weight="bold" font-style="italic" font-family="'Liberation Sans', Arial, sans-serif" fill="#fff" stroke="#fff" stroke-width="1.0" transform="translate(686.9 121.5) rotate(-17)">&#8467;</text>
</g>
<text x="0" y="0" font-size="20" font-style="italic" font-family="'Liberation Sans', Arial, sans-serif" fill="rgb(170,170,170)" fill-opacity="0.28" transform="translate(709.8 109.2) rotate(-21)" textLength="154" lengthAdjust="spacingAndGlyphs">Engineering For Life</text>
<g opacity="0.34">
<circle cx="1001.0" cy="114.0" r="25" fill="rgb(200,200,200)"/>
<text x="0" y="0" font-size="25" font-weight="bold" font-style="italic" font-family="'Liberation Sans', Arial, sans-serif" fill="#fff" stroke="#fff" stroke-width="1.2" transform="translate(985.0 129.0) rotate(-17)" textLength="25" lengthAdjust="spacingAndGlyphs">EF</text>
<text x="0" y="0" font-size="29" font-weight="bold" font-style="italic" font-family="'Liberation Sans', Arial, sans-serif" fill="#fff" stroke="#fff" stroke-width="1.0" transform="translate(1010.5 120.5) rotate(-17)">&#8467;</text>
</g>
<text x="0" y="0" font-size="20" font-style="italic" font-family="'Liberation Sans', Arial, sans-serif" fill="rgb(170,170,170)" fill-opacity="0.28" transform="translate(1033.4 108.2) rotate(-21)" textLength="154" lengthAdjust="spacingAndGlyphs">Engineering For Life</text>
<g opacity="0.34">
<circle cx="-92.0" cy="377.0" r="25" fill="rgb(200,200,200)"/>
<text x="0" y="0" font-size="25" font-weight="bold" font-style="italic" font-family="'Liberation Sans', Arial, sans-serif" fill="#fff" stroke="#fff" stroke-width="1.2" transform="translate(-108.0 392.0) rotate(-17)" textLength="25" lengthAdjust="spacingAndGlyphs">EF</text>
<text x="0" y="0" font-size="29" font-weight="bold" font-style="italic" font-family="'Liberation Sans', Arial, sans-serif" fill="#fff" stroke="#fff" stroke-width="1.0" transform="translate(-82.5 383.5) rotate(-17)">&#8467;</text>
</g>
<text x="0" y="0" font-size="20" font-style="italic" font-family="'Liberation Sans', Arial, sans-serif" fill="rgb(170,170,170)" fill-opacity="0.28" transform="translate(-59.6 371.2) rotate(-21)" textLength="154" lengthAdjust="spacingAndGlyphs">Engineering For Life</text>
<g opacity="0.34">
<circle cx="198.0" cy="377.4" r="25" fill="rgb(200,200,200)"/>
<text x="0" y="0" font-size="25" font-weight="bold" font-style="italic" font-family="'Liberation Sans', Arial, sans-serif" fill="#fff" stroke="#fff" stroke-width="1.2" transform="translate(182.0 392.4) rotate(-17)" textLength="25" lengthAdjust="spacingAndGlyphs">EF</text>
<text x="0" y="0" font-size="29" font-weight="bold" font-style="italic" font-family="'Liberation Sans', Arial, sans-serif" fill="#fff" stroke="#fff" stroke-width="1.0" transform="translate(207.5 383.9) rotate(-17)">&#8467;</text>
</g>
<text x="0" y="0" font-size="20" font-style="italic" font-family="'Liberation Sans', Arial, sans-serif" fill="rgb(170,170,170)" fill-opacity="0.28" transform="translate(230.4 371.6) rotate(-21)" textLength="154" lengthAdjust="spacingAndGlyphs">Engineering For Life</text>
<g opacity="0.34">
<circle cx="506.6" cy="376.9" r="25" fill="rgb(200,200,200)"/>
<text x="0" y="0" font-size="25" font-weight="bold" font-style="italic" font-family="'Liberation Sans', Arial, sans-serif" fill="#fff" stroke="#fff" stroke-width="1.2" transform="translate(490.6 391.9) rotate(-17)" textLength="25" lengthAdjust="spacingAndGlyphs">EF</text>
<text x="0" y="0" font-size="29" font-weight="bold" font-style="italic" font-family="'Liberation Sans', Arial, sans-serif" fill="#fff" stroke="#fff" stroke-width="1.0" transform="translate(516.1 383.4) rotate(-17)">&#8467;</text>
</g>
<text x="0" y="0" font-size="20" font-style="italic" font-family="'Liberation Sans', Arial, sans-serif" fill="rgb(170,170,170)" fill-opacity="0.28" transform="translate(539.0 371.1) rotate(-21)" textLength="154" lengthAdjust="spacingAndGlyphs">Engineering For Life</text>
<g opacity="0.34">
<circle cx="838.6" cy="377.3" r="25" fill="rgb(200,200,200)"/>
<text x="0" y="0" font-size="25" font-weight="bold" font-style="italic" font-family="'Liberation Sans', Arial, sans-serif" fill="#fff" stroke="#fff" stroke-width="1.2" transform="translate(822.6 392.3) rotate(-17)" textLength="25" lengthAdjust="spacingAndGlyphs">EF</text>
<text x="0" y="0" font-size="29" font-weight="bold" font-style="italic" font-family="'Liberation Sans', Arial, sans-serif" fill="#fff" stroke="#fff" stroke-width="1.0" transform="translate(848.1 383.8) rotate(-17)">&#8467;</text>
</g>
<text x="0" y="0" font-size="20" font-style="italic" font-family="'Liberation Sans', Arial, sans-serif" fill="rgb(170,170,170)" fill-opacity="0.28" transform="translate(871.0 371.5) rotate(-21)" textLength="154" lengthAdjust="spacingAndGlyphs">Engineering For Life</text>
</svg>
</body></html>
